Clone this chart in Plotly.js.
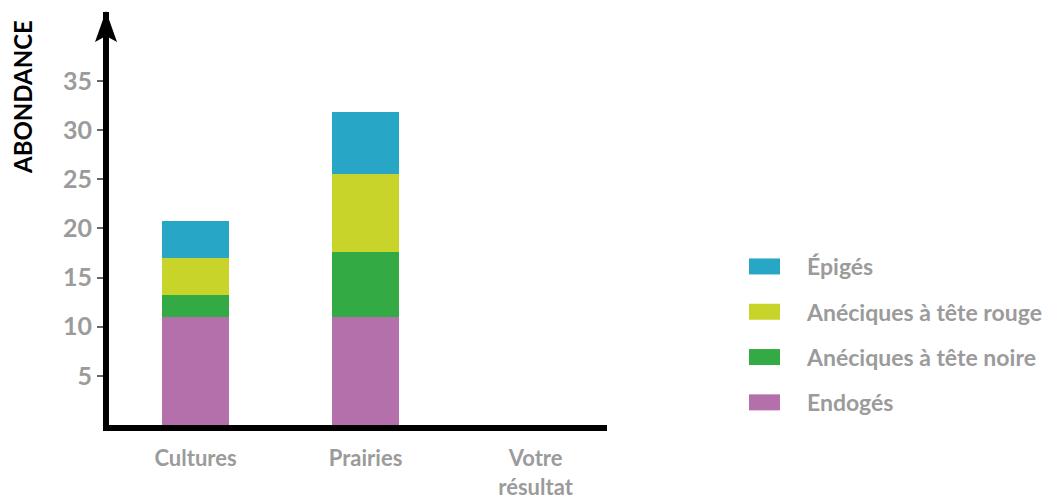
<!DOCTYPE html>
<html>
<head>
<meta charset="utf-8">
<script src="https://cdn.plot.ly/plotly-3.0.1.min.js"></script>
<style>html,body{margin:0;padding:0;background:#fff;}#chart{width:1053px;height:499px;}</style>
</head>
<body>
<div id="chart"></div>
<script>
const categories = ["Cultures", "Prairies", "Votre<br>résultat"];
const endoges = [11, 11, null];
const aneciquesNoire = [2.2, 6.6, null];
const aneciquesRouge = [3.8, 7.9, null];
const epiges = [3.7, 6.3, null];
const seriesNames = ["Endogés", "Anéciques à tête noire", "Anéciques à tête rouge", "Épigés"];
const seriesColors = ["#b370ab", "#33aa44", "#c8d42a", "#28a6c6"];
const yTickVals = [5, 10, 15, 20, 25, 30, 35];
const yTitle = "ABONDANCE";

const seriesValues = [endoges, aneciquesNoire, aneciquesRouge, epiges];
const traces = seriesValues.map((vals, i) => ({
  type: "bar",
  x: categories,
  y: vals,
  name: seriesNames[i],
  legendgroup: "g" + i,
  legendrank: seriesValues.length - i,
  marker: {color: seriesColors[i], line: {width: 0}},
  hoverinfo: "none"
}));

const FONT = "Lato, 'Open Sans', sans-serif";
const GRAY = "#9b9b9b";

const layout = {
  width: 1053, height: 499,
  margin: {l: 109, r: 446, t: 12, b: 74, pad: 0},
  paper_bgcolor: "#fff", plot_bgcolor: "#fff",
  barmode: "stack",
  bargap: 0.606,
  showlegend: true,
  font: {family: FONT},
  xaxis: {
    type: "category",
    range: [-0.509, 2.42],
    showgrid: false, zeroline: false,
    showline: true, linecolor: "#000", linewidth: 6,
    ticks: "", ticklabelstandoff: 9,
    tickfont: {family: FONT, size: 22, color: GRAY, weight: "bold"},
    fixedrange: true
  },
  yaxis: {
    range: [0, 42],
    showgrid: false, zeroline: false,
    showline: true, linecolor: "#000", linewidth: 6,
    tickmode: "array", tickvals: yTickVals,
    ticks: "outside", ticklen: 6, tickwidth: 2, tickcolor: "#666",
    tickfont: {family: FONT, size: 25, color: GRAY, weight: "bold"},
    fixedrange: true
  },
  legend: {
    xref: "container", yref: "container",
    x: 722 / 1053, xanchor: "left",
    y: 1 - 245 / 499, yanchor: "top",
    traceorder: "grouped",
    tracegroupgap: 12.4,
    itemwidth: 75,
    bgcolor: "rgba(0,0,0,0)",
    borderwidth: 0,
    font: {family: FONT, size: 23, color: GRAY, weight: "bold"},
    itemclick: false, itemdoubleclick: false
  },
  annotations: [{
    text: yTitle, xref: "paper", yref: "paper",
    x: (22 - 109) / 498, y: (425 - 97) / 413,
    xanchor: "center", yanchor: "middle",
    textangle: -90, showarrow: false,
    font: {family: FONT, size: 24, color: "#000", weight: "bold"}
  }],
  shapes: [{
    type: "path", xref: "paper", yref: "paper",
    path: "M " + ((106 - 109) / 498) + " " + ((425 - 11) / 413) +
          " L " + ((95 - 109) / 498) + " " + ((425 - 42) / 413) +
          " L " + ((106 - 109) / 498) + " " + ((425 - 36) / 413) +
          " L " + ((117 - 109) / 498) + " " + ((425 - 42) / 413) + " Z",
    fillcolor: "#000", line: {width: 0}
  }]
};

Plotly.newPlot("chart", traces, layout, {displayModeBar: false, staticPlot: true}).then(function (gd) {
  gd.querySelectorAll(".legend .legendpoints path").forEach(function (p) {
    p.setAttribute("d", "M15.5,8H-15.5V-8H15.5Z");
  });
});
</script>
</body>
</html>
